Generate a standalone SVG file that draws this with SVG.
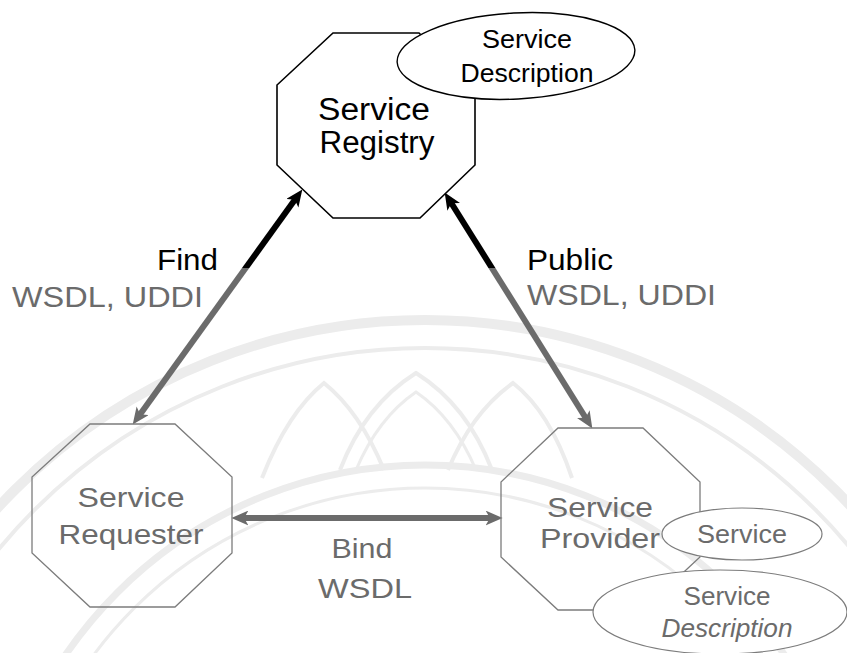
<svg xmlns="http://www.w3.org/2000/svg" width="847" height="653" viewBox="0 0 847 653">
  <style>
    text { font-family: "Liberation Sans", Arial, sans-serif; }
    .dark { fill: #000; }
    .soft { fill: #6b6b6b; }
    .big { font-size: 31px; }
    .mid { font-size: 28px; }
    .lbl { font-size: 29px; }
    .small { font-size: 25px; }
    .octTop { fill: #fff; stroke: #000; stroke-width: 1.6; }
    .octLow { fill: none; stroke: #7c7c7c; stroke-width: 1.3; }
    .ellTop { fill: #fff; stroke: #000; stroke-width: 1.4; }
    .ellLow { fill: #fff; stroke: #7c7c7c; stroke-width: 1.2; }
    .seal { fill: none; stroke: #ececec; }
    .link { fill: none; stroke: url(#fade); stroke-width: 6; }
  </style>
  <defs>
    <linearGradient id="fade" gradientUnits="userSpaceOnUse" x1="0" y1="0" x2="0" y2="653">
      <stop offset="0" stop-color="#000"/>
      <stop offset="0.41" stop-color="#000"/>
      <stop offset="0.41" stop-color="#6b6b6b"/>
      <stop offset="1" stop-color="#6b6b6b"/>
    </linearGradient>
    <marker id="headDark" viewBox="0 0 16 14" refX="6" refY="7" markerWidth="17" markerHeight="15" markerUnits="userSpaceOnUse" orient="auto-start-reverse">
      <path d="M0,0 L16,7 L0,14 L4,7 z" fill="#000"/>
    </marker>
    <marker id="headSoft" viewBox="0 0 16 14" refX="6" refY="7" markerWidth="17" markerHeight="15" markerUnits="userSpaceOnUse" orient="auto-start-reverse">
      <path d="M0,0 L16,7 L0,14 L4,7 z" fill="#6b6b6b"/>
    </marker>
  </defs>

  <rect width="847" height="653" fill="#fff"/>

  <!-- faint background seal -->
  <g id="seal" class="seal">
    <circle cx="425" cy="900" r="580" stroke-width="10"/>
    <circle cx="425" cy="900" r="552" stroke-width="4"/>
    <circle cx="425" cy="900" r="435" stroke-width="7"/>
    <circle cx="425" cy="900" r="412" stroke-width="3"/>
    <path d="M340,470 Q365,405 416,373 Q467,405 492,470" stroke-width="4"/>
    <path d="M356,470 Q378,418 416,392 Q454,418 476,470" stroke-width="3"/>
    <path d="M262,478 Q288,412 324,383 Q360,412 384,470" stroke-width="4"/>
    <path d="M448,470 Q472,412 513,383 Q550,412 572,478" stroke-width="4"/>
  </g>

  <!-- connectors -->
  <g id="connectors">
    <path id="find" class="link" d="M138.9,415.9 L296.1,198.1" marker-start="url(#headSoft)" marker-end="url(#headDark)"/>
    <path id="publish" class="link" d="M450.3,201.5 L586.7,419.5" marker-start="url(#headDark)" marker-end="url(#headSoft)"/>
    <path id="bind" class="link" d="M242,518 L492,518" marker-start="url(#headSoft)" marker-end="url(#headSoft)"/>
    <text class="dark lbl" x="157" y="270" font-size="30" textLength="61" lengthAdjust="spacingAndGlyphs">Find</text>
    <text class="soft lbl" x="12" y="307" textLength="191" lengthAdjust="spacingAndGlyphs">WSDL, UDDI</text>
    <text class="dark lbl" x="527" y="270" font-size="30" textLength="86" lengthAdjust="spacingAndGlyphs">Public</text>
    <text class="soft lbl" x="527" y="305" textLength="189" lengthAdjust="spacingAndGlyphs">WSDL, UDDI</text>
    <text class="soft mid" x="362" y="558" text-anchor="middle" textLength="61" lengthAdjust="spacingAndGlyphs">Bind</text>
    <text class="soft mid" x="365" y="598" text-anchor="middle" textLength="94" lengthAdjust="spacingAndGlyphs">WSDL</text>
  </g>

  <!-- registry -->
  <g id="registry">
    <polygon class="octTop" points="333,33 419,33 475,87 475,165 420,218 333,218 277,165 277,85"/>
    <text class="dark big" x="374" y="120" text-anchor="middle" textLength="112" lengthAdjust="spacingAndGlyphs">Service</text>
    <text class="dark big" x="377" y="153" text-anchor="middle" textLength="115" lengthAdjust="spacingAndGlyphs">Registry</text>
  </g>
  <g id="registry-description">
    <ellipse class="ellTop" cx="516" cy="56" rx="119" ry="43" transform="rotate(-3 516 56)"/>
    <text class="dark small" x="527" y="48" text-anchor="middle" textLength="90" lengthAdjust="spacingAndGlyphs">Service</text>
    <text class="dark small" x="527" y="82" text-anchor="middle" textLength="133" lengthAdjust="spacingAndGlyphs">Description</text>
  </g>

  <!-- requester -->
  <g id="requester">
    <polygon class="octLow" points="90,424 175,424 232,477 232,553 175,607 90,607 32,553 32,477"/>
    <text class="soft mid" x="131" y="507" text-anchor="middle" textLength="107" lengthAdjust="spacingAndGlyphs">Service</text>
    <text class="soft mid" x="131" y="544" text-anchor="middle" textLength="145" lengthAdjust="spacingAndGlyphs">Requester</text>
  </g>

  <!-- provider -->
  <g id="provider">
    <polygon class="octLow" points="558,428 643,428 700,482 700,557 643,610 558,610 501,557 501,482"/>
    <text class="soft mid" x="600" y="517" text-anchor="middle" textLength="106" lengthAdjust="spacingAndGlyphs">Service</text>
    <text class="soft mid" x="600" y="548" text-anchor="middle" textLength="120" lengthAdjust="spacingAndGlyphs">Provider</text>
  </g>
  <g id="provider-service">
    <ellipse class="ellLow" cx="742" cy="534" rx="80" ry="26"/>
    <text class="soft small" x="742" y="543" text-anchor="middle" textLength="90" lengthAdjust="spacingAndGlyphs">Service</text>
  </g>
  <g id="provider-description">
    <ellipse class="ellLow" cx="720" cy="612" rx="127" ry="42"/>
    <text class="soft small" x="727" y="605" text-anchor="middle" textLength="87" lengthAdjust="spacingAndGlyphs">Service</text>
    <text class="soft small" x="727" y="637" text-anchor="middle" font-style="italic" textLength="131" lengthAdjust="spacingAndGlyphs">Description</text>
  </g>
</svg>
